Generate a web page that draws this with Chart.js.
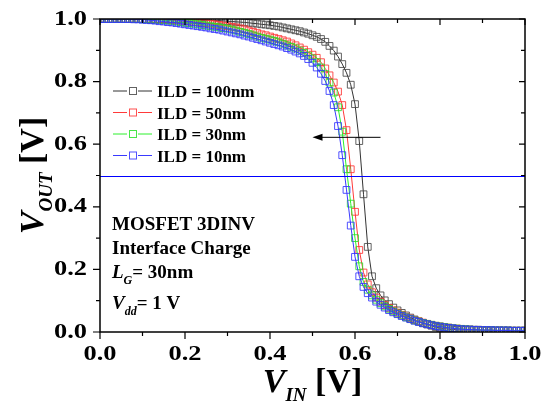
<!DOCTYPE html>
<html>
<head>
<meta charset="utf-8">
<script src="https://cdn.jsdelivr.net/npm/chart.js@4"></script>
<style>
  body { margin: 0; background: #fff; }
  canvas { display: block; }
</style>
</head>
<body>
<canvas id="chart" width="551" height="401"></canvas>
<script>
// V_IN (V)
const vin = [
  0.00, 0.01, 0.02, 0.03, 0.04, 0.05, 0.06, 0.07, 0.08, 0.09,
  0.10, 0.11, 0.12, 0.13, 0.14, 0.15, 0.16, 0.17, 0.18, 0.19,
  0.20, 0.21, 0.22, 0.23, 0.24, 0.25, 0.26, 0.27, 0.28, 0.29,
  0.30, 0.31, 0.32, 0.33, 0.34, 0.35, 0.36, 0.37, 0.38, 0.39,
  0.40, 0.41, 0.42, 0.43, 0.44, 0.45, 0.46, 0.47, 0.48, 0.49,
  0.50, 0.51, 0.52, 0.53, 0.54, 0.55, 0.56, 0.57, 0.58, 0.59,
  0.60, 0.61, 0.62, 0.63, 0.64, 0.65, 0.66, 0.67, 0.68, 0.69,
  0.70, 0.71, 0.72, 0.73, 0.74, 0.75, 0.76, 0.77, 0.78, 0.79,
  0.80, 0.81, 0.82, 0.83, 0.84, 0.85, 0.86, 0.87, 0.88, 0.89,
  0.90, 0.91, 0.92, 0.93, 0.94, 0.95, 0.96, 0.97, 0.98, 0.99,
  1.00
];

// V_OUT (V) par ILD
const ild100 = [
  1.000, 1.000, 1.000, 1.000, 1.000, 1.000, 1.000, 1.000, 1.000, 1.000,
  1.000, 1.000, 1.000, 1.000, 1.000, 1.000, 0.999, 0.999, 0.999, 0.999,
  0.998, 0.998, 0.997, 0.997, 0.996, 0.996, 0.996, 0.995, 0.995, 0.994,
  0.993, 0.992, 0.991, 0.990, 0.989, 0.988, 0.986, 0.985, 0.983, 0.982,
  0.980, 0.978, 0.976, 0.973, 0.970, 0.967, 0.964, 0.961, 0.957, 0.953,
  0.948, 0.943, 0.936, 0.927, 0.914, 0.899, 0.880, 0.856, 0.828, 0.790,
  0.728, 0.610, 0.440, 0.272, 0.178, 0.140, 0.117, 0.101, 0.089, 0.078,
  0.069, 0.061, 0.053, 0.046, 0.040, 0.034, 0.028, 0.024, 0.020, 0.016,
  0.013, 0.011, 0.009, 0.008, 0.007, 0.006, 0.006, 0.006, 0.006, 0.006,
  0.005, 0.005, 0.005, 0.005, 0.005, 0.004, 0.004, 0.004, 0.004, 0.004,
  0.004
];
const ild50 = [
  1.000, 1.000, 1.000, 1.000, 1.000, 1.000, 1.000, 1.000, 1.000, 1.000,
  1.000, 1.000, 0.999, 0.999, 0.998, 0.998, 0.997, 0.996, 0.995, 0.994,
  0.993, 0.992, 0.991, 0.990, 0.988, 0.987, 0.985, 0.983, 0.981, 0.979,
  0.977, 0.975, 0.973, 0.970, 0.967, 0.963, 0.959, 0.955, 0.951, 0.948,
  0.944, 0.940, 0.936, 0.932, 0.928, 0.922, 0.916, 0.909, 0.902, 0.894,
  0.886, 0.876, 0.862, 0.842, 0.820, 0.797, 0.768, 0.725, 0.645, 0.520,
  0.384, 0.262, 0.190, 0.152, 0.127, 0.110, 0.097, 0.086, 0.077, 0.069,
  0.062, 0.055, 0.049, 0.043, 0.038, 0.034, 0.030, 0.026, 0.023, 0.020,
  0.018, 0.016, 0.014, 0.012, 0.011, 0.010, 0.009, 0.008, 0.007, 0.007,
  0.006, 0.006, 0.006, 0.005, 0.005, 0.005, 0.005, 0.004, 0.004, 0.004,
  0.004
];
const ild30 = [
  1.000, 1.000, 1.000, 1.000, 1.000, 1.000, 1.000, 1.000, 1.000, 1.000,
  0.999, 0.999, 0.998, 0.998, 0.997, 0.996, 0.995, 0.994, 0.992, 0.990,
  0.988, 0.987, 0.985, 0.983, 0.981, 0.979, 0.977, 0.975, 0.973, 0.971,
  0.969, 0.966, 0.963, 0.959, 0.956, 0.952, 0.948, 0.944, 0.940, 0.937,
  0.934, 0.930, 0.926, 0.921, 0.916, 0.911, 0.906, 0.899, 0.892, 0.883,
  0.874, 0.862, 0.845, 0.824, 0.797, 0.765, 0.718, 0.640, 0.520, 0.410,
  0.300, 0.210, 0.160, 0.135, 0.117, 0.103, 0.092, 0.082, 0.074, 0.066,
  0.059, 0.053, 0.047, 0.042, 0.037, 0.033, 0.029, 0.026, 0.023, 0.020,
  0.018, 0.016, 0.014, 0.012, 0.011, 0.010, 0.009, 0.008, 0.007, 0.007,
  0.006, 0.006, 0.006, 0.005, 0.005, 0.005, 0.005, 0.004, 0.004, 0.004,
  0.004
];
const ild10 = [
  1.000, 1.000, 1.000, 1.000, 1.000, 1.000, 1.000, 1.000, 0.999, 0.999,
  0.998, 0.997, 0.996, 0.995, 0.993, 0.992, 0.990, 0.989, 0.987, 0.985,
  0.983, 0.981, 0.979, 0.977, 0.975, 0.973, 0.970, 0.968, 0.966, 0.963,
  0.960, 0.957, 0.954, 0.951, 0.947, 0.944, 0.940, 0.936, 0.932, 0.928,
  0.924, 0.920, 0.916, 0.912, 0.907, 0.902, 0.896, 0.890, 0.882, 0.872,
  0.860, 0.845, 0.825, 0.802, 0.770, 0.725, 0.658, 0.565, 0.454, 0.340,
  0.240, 0.178, 0.144, 0.124, 0.110, 0.097, 0.087, 0.078, 0.070, 0.063,
  0.057, 0.051, 0.046, 0.041, 0.036, 0.032, 0.028, 0.025, 0.022, 0.019,
  0.017, 0.015, 0.013, 0.012, 0.010, 0.009, 0.008, 0.008, 0.007, 0.007,
  0.006, 0.006, 0.006, 0.005, 0.005, 0.005, 0.005, 0.004, 0.004, 0.004,
  0.004
];

const seriesLabels = ['ILD = 100nm', 'ILD = 50nm', 'ILD = 30nm', 'ILD = 10nm'];
const xTicks = [0, 0.2, 0.4, 0.6, 0.8, 1.0];
const yTicks = [0, 0.2, 0.4, 0.6, 0.8, 1.0];
const vMid = 0.5;                 // ligne horizontale bleue
const arrowFrom = [0.66, 0.622];  // fleche (debut)
const arrowTo = [0.50, 0.622];    // fleche (pointe)
const notes = ['MOSFET 3DINV', 'Interface Charge'];

const lineColors = ['#333333', '#ff3a3a', '#2cf02c', '#3a3aff'];
const markColors = ['rgba(70,70,70,0.85)', 'rgba(255,50,50,0.85)', 'rgba(40,225,40,0.85)', 'rgba(50,50,255,0.85)'];

const SERIF = '"Liberation Serif", "Times New Roman", serif';

function pts(ys) {
  return vin.map((x, i) => ({ x: x, y: ys[i] }));
}

function serie(label, ys, k) {
  return {
    label: label,
    data: pts(ys),
    borderColor: lineColors[k],
    borderWidth: 1,
    pointStyle: 'rect',
    pointRadius: 4.8,
    pointBorderWidth: 1,
    pointBorderColor: markColors[k],
    pointBackgroundColor: 'rgba(0,0,0,0)',
    tension: 0,
    order: 4 - k
  };
}

// texte avec indices (parts: [texte, police, decalage vertical])
function richText(ctx, parts, x, y, align) {
  let total = 0;
  parts.forEach(p => { ctx.font = p[1]; total += ctx.measureText(p[0]).width; });
  let cx = align === 'center' ? x - total / 2 : x;
  ctx.textAlign = 'left';
  ctx.textBaseline = 'alphabetic';
  parts.forEach(p => {
    ctx.font = p[1];
    ctx.fillText(p[0], cx, y + (p[2] || 0));
    cx += ctx.measureText(p[0]).width;
  });
}

const decor = {
  id: 'decor',
  afterDatasetsDraw(chart) {
    const ctx = chart.ctx;
    const xs = chart.scales.x, ys = chart.scales.y;
    const a = chart.chartArea;
    ctx.save();

    // ligne V_OUT = 0.5 (alignee sur le pixel)
    const my = Math.round(ys.getPixelForValue(vMid)) + 0.5;
    ctx.strokeStyle = '#0000ff';
    ctx.lineWidth = 1;
    ctx.beginPath();
    ctx.moveTo(a.left, my); ctx.lineTo(a.right, my);
    ctx.stroke();

    ctx.fillStyle = '#000';
    ctx.strokeStyle = '#000';

    // cadre
    ctx.lineWidth = 1.5;
    ctx.strokeRect(a.left, a.top, a.right - a.left, a.bottom - a.top);

    // graduations
    ctx.lineWidth = 1.2;
    ctx.beginPath();
    for (let i = 0; i <= 10; i++) {
      const v = i / 10;
      const major = i % 2 === 0;
      const px = xs.getPixelForValue(v);
      const py = ys.getPixelForValue(v);
      const out = major ? 7 : 4;
      const inn = major ? 6 : 4;
      ctx.moveTo(px, a.bottom); ctx.lineTo(px, a.bottom + out);
      ctx.moveTo(px, a.top); ctx.lineTo(px, a.top + inn);
      ctx.moveTo(a.left, py); ctx.lineTo(a.left - out, py);
      ctx.moveTo(a.right, py); ctx.lineTo(a.right - inn, py);
    }
    ctx.stroke();

    // etiquettes des graduations (police elargie)
    ctx.font = 'bold 22px ' + SERIF;
    ctx.textBaseline = 'middle';
    xTicks.forEach(v => {
      const px = xs.getPixelForValue(v);
      ctx.save();
      ctx.translate(px, a.bottom + 22);
      ctx.scale(1.2, 1);
      ctx.textAlign = 'center';
      ctx.fillText(v.toFixed(1), 0, 0);
      ctx.restore();
    });
    yTicks.forEach(v => {
      const py = ys.getPixelForValue(v);
      ctx.save();
      ctx.translate(a.left - 13, py);
      ctx.scale(1.2, 1);
      ctx.textAlign = 'right';
      ctx.fillText(v.toFixed(1), 0, 0);
      ctx.restore();
    });

    // fleche
    const ax0 = xs.getPixelForValue(arrowFrom[0]), ay = ys.getPixelForValue(arrowFrom[1]);
    const ax1 = xs.getPixelForValue(arrowTo[0]);
    ctx.lineWidth = 1;
    ctx.beginPath();
    ctx.moveTo(ax0, ay); ctx.lineTo(ax1 + 6, ay);
    ctx.stroke();
    ctx.beginPath();
    ctx.moveTo(ax1, ay); ctx.lineTo(ax1 + 10, ay - 3.5); ctx.lineTo(ax1 + 10, ay + 3.5);
    ctx.closePath();
    ctx.fill();

    // legende
    const lx = a.left + 13;
    seriesLabels.forEach((lab, k) => {
      const ly = 91 + k * 21.5;
      ctx.strokeStyle = lineColors[k];
      ctx.lineWidth = 1;
      ctx.beginPath();
      ctx.moveTo(lx, ly); ctx.lineTo(lx + 14, ly);
      ctx.moveTo(lx + 25, ly); ctx.lineTo(lx + 39, ly);
      ctx.stroke();
      ctx.strokeStyle = markColors[k];
      ctx.strokeRect(lx + 16.5, ly - 3.5, 7, 7);
      ctx.fillStyle = '#000';
      ctx.font = 'bold 17px ' + SERIF;
      ctx.textAlign = 'left';
      ctx.textBaseline = 'alphabetic';
      ctx.fillText(lab, lx + 44, ly + 6);
    });

    // annotations
    ctx.fillStyle = '#000';
    const nf = 'bold 19px ' + SERIF;
    const ni = 'italic bold 19px ' + SERIF;
    const ns = 'italic bold 12px ' + SERIF;
    ctx.font = nf;
    ctx.textAlign = 'left';
    ctx.fillText(notes[0], 112, 230);
    ctx.fillText(notes[1], 112, 254);
    richText(ctx, [['L', ni], ['G', ns, 6], ['= 30nm', nf]], 112, 278);
    richText(ctx, [['V', ni], ['dd', ns, 6], ['= 1 V', nf]], 112, 309);

    // titres des axes
    const tb = 'italic bold 34px ' + SERIF;
    const tn = 'bold 34px ' + SERIF;
    const ts = 'italic bold 19px ' + SERIF;
    richText(ctx, [['V', tb], ['IN', ts, 9], [' [V]', tn]], xs.getPixelForValue(0.5), 392, 'center');
    ctx.save();
    ctx.translate(43, ys.getPixelForValue(0.5));
    ctx.rotate(-Math.PI / 2);
    richText(ctx, [['V', tb], ['OUT', ts, 9], [' [V]', tn]], 0, 0, 'center');
    ctx.restore();

    ctx.restore();
  }
};

new Chart(document.getElementById('chart'), {
  type: 'line',
  data: {
    datasets: [
      serie(seriesLabels[0], ild100, 0),
      serie(seriesLabels[1], ild50, 1),
      serie(seriesLabels[2], ild30, 2),
      serie(seriesLabels[3], ild10, 3)
    ]
  },
  options: {
    responsive: false,
    animation: false,
    devicePixelRatio: 1,
    layout: { padding: { left: 0, right: 26, top: 19, bottom: 0 } },
    plugins: { legend: { display: false }, tooltip: { enabled: false } },
    scales: {
      x: {
        type: 'linear', min: 0, max: 1,
        grid: { display: false, drawTicks: false },
        border: { display: false },
        ticks: { display: false, stepSize: 0.2 },
        afterFit: s => { s.height = 69; }
      },
      y: {
        type: 'linear', min: 0, max: 1,
        grid: { display: false, drawTicks: false },
        border: { display: false },
        ticks: { display: false, stepSize: 0.2 },
        afterFit: s => { s.width = 100; }
      }
    }
  },
  plugins: [decor]
});
</script>
</body>
</html>
